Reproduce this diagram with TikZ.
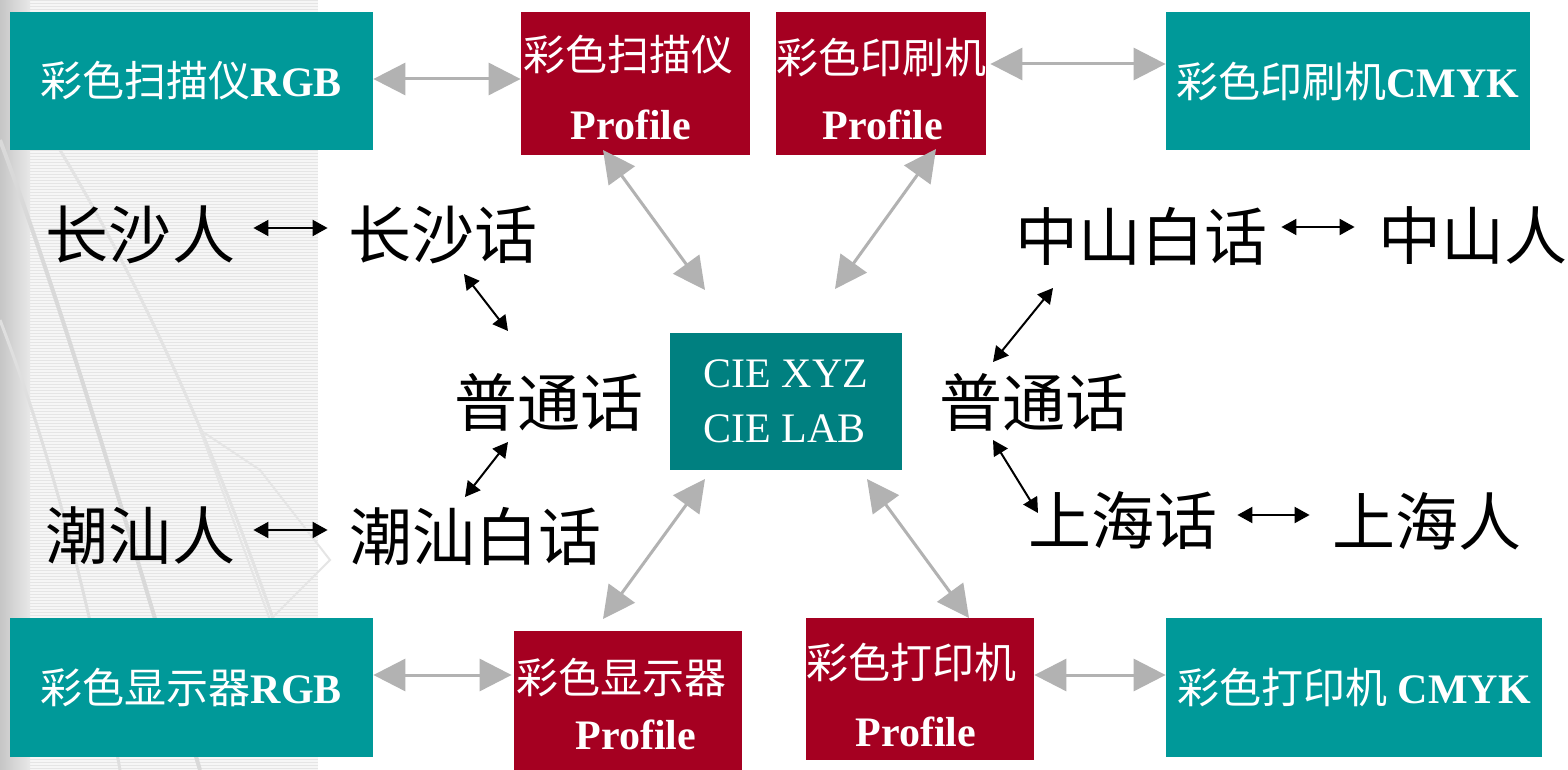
\documentclass[tikz,border=0pt]{standalone}
\usepackage{fontspec}
\setmainfont{Liberation Serif}
\newfontfamily\cjk{Noto Sans CJK SC}
\usetikzlibrary{arrows.meta}
\definecolor{tealc}{HTML}{009999}
\definecolor{ciec}{HTML}{008080}
\definecolor{redc}{HTML}{A50021}
\definecolor{arrgray}{HTML}{B2B2B2}
\begin{document}
\begin{tikzpicture}[x=0.5pt,y=-0.5pt,
  tbox/.style={fill=tealc, text=white, inner sep=0pt, font=\fontsize{21}{25}\selectfont},
  rbox/.style={fill=redc, inner sep=0pt},
  rtext/.style={text=white, inner sep=0pt, font=\fontsize{21}{25}\selectfont},
  word/.style={inner sep=0pt, font=\cjk\fontsize{31.5}{32}\selectfont},
  garr/.style={draw=arrgray, line width=1.5pt, {Triangle[length=16pt,width=16pt]}-{Triangle[length=16pt,width=16pt]}},
  barr/.style={draw=black, line width=1pt, {Triangle[length=7.5pt,width=8pt]}-{Triangle[length=7.5pt,width=8pt]}},
]
\useasboundingbox (0,0) rectangle (1568,770);
\fill[white] (0,0) rectangle (1568,770);
% left textured background
\fill[gray!7] (0,0) rectangle (318,770);
\foreach \yy in {0,3,...,768} \draw[gray!20, line width=0.3pt] (30,\yy) -- (318,\yy);
\shade[left color=gray!45, right color=gray!18] (0,0) rectangle (30,770);
\draw[gray!30, line width=2pt] (0,140) .. controls (60,300) and (120,500) .. (200,770);
\draw[gray!25, line width=1.5pt] (0,320) .. controls (50,450) and (90,600) .. (120,770);
\draw[gray!22, line width=1.5pt] (60,150) .. controls (150,300) and (230,480) .. (300,700);
\draw[gray!20, line width=1pt] (200,430) -- (260,470) -- (330,560) -- (270,620) -- (200,430);

% boxes
\node[tbox, minimum width=181.5pt, minimum height=69pt] (scanRGB) at (191.5,81) {{\cjk 彩色扫描仪}\textbf{RGB}};
\node[rbox, minimum width=114.5pt, minimum height=71.5pt] (scanProf) at (635.5,83.5) {};
\node[rtext] (scanProfA) at (628,55) {\cjk 彩色扫描仪};
\node[rtext] (scanProfB) at (631,125) {\textbf{Profile}};

\node[rbox, minimum width=105pt, minimum height=71.5pt] (printProf) at (881,83.5) {};
\node[rtext] (printProfA) at (881,57) {\cjk 彩色印刷机};
\node[rtext] (printProfB) at (883,125) {\textbf{Profile}};

\node[tbox, minimum width=182pt, minimum height=69pt] (printCMYK) at (1348,81) {{\cjk 彩色印刷机}\textbf{CMYK}};

\node[fill=ciec, text=white, inner sep=0pt, minimum width=116pt, minimum height=68.5pt,
      align=left, font=\fontsize{21}{27.5}\selectfont] (cie) at (786,401.5) {CIE XYZ\\CIE LAB};

\node[tbox, minimum width=181.5pt, minimum height=69.5pt] (dispRGB) at (191.5,687.5) {{\cjk 彩色显示器}\textbf{RGB}};
\node[rbox, minimum width=114pt, minimum height=69.5pt] (dispProf) at (628,700.5) {};
\node[rtext] (dispProfA) at (621,677) {\cjk 彩色显示器};
\node[rtext] (dispProfB) at (636,735) {\textbf{Profile}};

\node[rbox, minimum width=114pt, minimum height=71pt] (prnProf) at (920,689) {};
\node[rtext] (prnProfA) at (911,662) {\cjk 彩色打印机};
\node[rtext] (prnProfB) at (916,732) {\textbf{Profile}};

\node[tbox, minimum width=188pt, minimum height=69.5pt] (prnCMYK) at (1354,687.5) {{\cjk 彩色打印机} \textbf{CMYK}};

% words
\node[word] (csren) at (140.5,235) {长沙人};
\node[word] (cshua) at (442.5,235) {长沙话};
\node[word] (ptl) at (548.5,402) {普通话};
\node[word] (cdren) at (140.5,536) {潮汕人};
\node[word] (cdhua) at (475,536) {潮汕白话};
\node[word] (zshua) at (1141.5,236) {中山白话};
\node[word] (zsren) at (1472.5,236) {中山人};
\node[word] (ptr) at (1033.5,402) {普通话};
\node[word] (shhua) at (1122.5,521) {上海话};
\node[word] (shren) at (1426.5,521) {上海人};

% black arrows
\draw[barr] ([xshift=9pt,yshift=3.5pt]csren.east) -- ([xshift=-10pt,yshift=3.5pt]cshua.west);
\draw[barr] ([xshift=9pt,yshift=3pt]cdren.east) -- ([xshift=-10.5pt,yshift=3pt]cdhua.west);
\draw[barr] ([xshift=6.75pt,yshift=4.5pt]zshua.east) -- ([xshift=-11.5pt,yshift=4.5pt]zsren.west);
\draw[barr] ([xshift=10pt,yshift=3pt]shhua.east) -- ([xshift=-11pt,yshift=3pt]shren.west);
\draw[barr] ([shift={(21.5,39)}]cshua.center) -- ([shift={(-40.5,-71)}]ptl.center);
\draw[barr] ([shift={(-40.5,40)}]ptl.center) -- ([shift={(-10,-39)}]cdhua.center);
\draw[barr] ([shift={(-88.5,52)}]zshua.center) -- ([shift={(-40.5,-40)}]ptr.center);
\draw[barr] ([shift={(-40.5,38)}]ptr.center) -- ([shift={(-84.5,-8)}]shhua.center);

% gray arrows
\draw[garr] ([yshift=1pt]scanRGB.east) -- ([yshift=1pt]scanRGB.east -| scanProf.west);
\draw[garr] ([xshift=2pt,yshift=9.75pt]printProf.east) -- ([yshift=9.75pt]printProf.east -| printCMYK.west);
\draw[garr] ([yshift=6.25pt]dispRGB.east) -- ([yshift=6.25pt,xshift=-1pt]dispRGB.east -| dispProf.west);
\draw[garr] ([yshift=7pt]prnProf.east) -- ([yshift=7pt]prnProf.east -| prnCMYK.west);
\draw[garr] ([shift={(-32.5,66.5)}]scanProf.center) -- ([shift={(-81,-111.5)}]cie.center);
\draw[garr] ([shift={(55,65.5)}]printProf.center) -- ([shift={(49,-112.5)}]cie.center);
\draw[garr] ([shift={(-81,77.5)}]cie.center) -- ([shift={(-25,-81.5)}]dispProf.center);
\draw[garr] ([shift={(81,77.5)}]cie.center) -- ([shift={(49,-71)}]prnProf.center);
\end{tikzpicture}
\end{document}
